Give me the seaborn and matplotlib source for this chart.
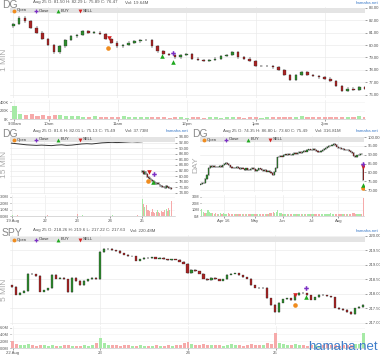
import numpy as np
import pandas as pd
import matplotlib
matplotlib.use("Agg")
import matplotlib.pyplot as plt
import seaborn as sns

# ---------------- data ----------------
# Panel 1: DG 1 MIN (sampled every 5 minutes from 9:30)
m1_open0 = 81.5
m1_close = [81.7, 82.2, 81.9, 81.4, 81.0, 80.5, 80.0, 79.4, 79.9, 80.4,
            80.7, 80.8, 81.1, 81.0, 81.0, 80.9, 80.5, 80.2, 79.9, 80.0,
            80.2, 80.3, 80.4, 80.4, 79.9, 79.5, 79.3, 79.2, 79.0, 79.2,
            79.3, 78.9, 78.8, 78.7, 78.8, 78.9, 79.1, 79.2, 79.4, 79.0,
            78.9, 78.7, 78.3, 78.3, 78.3, 78.2, 78.0, 77.6, 77.2, 77.6,
            77.8, 77.6, 77.5, 77.4, 77.3, 77.1, 76.7, 76.3, 76.5, 76.4,
            76.6, 76.5]
m1_vol = [310, 120, 90, 110, 80, 95, 70, 85, 100, 75, 60, 70, 55, 50, 60, 45,
          50, 55, 40, 65, 50, 45, 40, 50, 45, 55, 40, 35, 45, 40, 35, 50,
          40, 35, 45, 40, 35, 45, 55, 40, 35, 50, 40, 35, 45, 40, 50, 45,
          40, 55, 60, 50, 45, 40, 50, 45, 55, 45, 50, 55, 60, 50]
m1_xlabels = ["9:30am", "10am", "11am", "12pm", "1pm", "2pm"]
m1_xlabel_min = [0, 30, 90, 150, 210, 270]
m1_marks = {"Open": (82, 79.75), "SELL": (83, 80.55), "BUY": [(129, 79.1), (138, 78.6)], "Close": (138, 79.4)}

# Panel 2: DG 15 MIN
m15_prior_line = [91.8, 91.6, 91.4, 91.2, 91.1, 91.0, 91.1, 91.0, 90.9, 91.1,
                  91.2, 91.0, 91.1, 91.3, 91.5, 91.6, 91.5, 91.7, 91.9, 92.0,
                  92.1, 92.0, 92.1, 92.2, 92.3, 92.2, 92.3]
m15_prior_vol = [0.15, 0.08, 0.06, 0.07, 0.05, 0.06, 0.05, 0.12, 0.07, 0.05,
                 0.06, 0.05, 0.07, 0.28, 0.08, 0.06, 0.05, 0.07, 0.06, 0.05,
                 0.08, 0.06, 0.05, 0.07, 0.06, 0.10]
m15_open0 = 81.6
m15_close = [82.0, 80.6, 81.5, 80.8, 79.8, 79.4, 79.0, 78.6, 78.2, 78.0,
             77.6, 77.2, 77.4, 77.0, 76.6, 76.4, 76.2, 76.0, 75.8, 76.3,
             76.1, 75.7, 75.9, 75.5]
m15_vol = [2.6, 1.9, 1.4, 1.7, 1.0, 0.9, 0.8, 0.7, 1.1, 0.6, 0.5, 0.7, 0.9,
           0.6, 0.5, 0.8, 0.7, 0.6, 0.9, 1.1, 0.8, 1.3, 1.0, 2.4]
m15_xlabels = ["19 Aug", "22", "23", "24", "25"]
m15_marks = {"Open": (108.6, 78.3), "SELL": (109.3, 81.5), "BUY": [(112.5, 77.9)], "Close": (113.3, 80.8)}

# Panel 3: DG DAY
day_open0 = 73.2
day_close = [73.5, 74.0, 73.8, 76.5, 78.5, 82.5, 83.5, 83.0, 83.6, 83.2,
             82.9, 83.1, 83.5, 83.2, 84.0, 84.6, 85.3, 84.8, 84.0, 83.0,
             82.6, 82.8, 82.4, 82.9, 82.5, 82.0, 82.6, 82.2, 81.6, 82.3,
             81.5, 81.2, 81.9, 82.4, 81.8, 81.0, 81.5, 82.3, 82.0, 81.6,
             80.8, 81.3, 80.5, 81.0, 80.4, 79.5, 78.8, 80.5, 82.5, 88.5,
             89.0, 89.3, 89.0, 89.8, 90.2, 89.8, 90.5, 90.1, 89.6, 90.3,
             90.8, 90.4, 91.0, 91.4, 90.9, 91.6, 92.2, 91.8, 92.6, 93.0,
             92.5, 92.8, 93.3, 92.7, 92.0, 91.5, 91.4, 91.9, 92.6, 93.2,
             93.8, 94.2, 94.8, 95.2, 95.6, 96.2, 95.4, 94.6, 94.0, 93.6,
             93.2, 93.5, 92.8, 92.4, 92.8, 92.0, 91.5, 91.2, 89.5, 88.7,
             89.6, 90.0, 90.5, 90.3, 75.5]
day_last_open = 84.0
day_vol = [11, 6, 4, 5, 9, 7, 5, 4, 3, 4,
           3, 3, 4, 3, 4, 3, 3, 4, 3, 3,
           2.5, 3, 3, 2.5, 3, 3, 2.5, 3, 2.5, 3,
           3, 2.5, 3, 3.5, 3, 3, 2.5, 3, 3, 3,
           3.5, 3, 3, 3.5, 4, 5, 6, 5, 7, 9,
           5, 4, 3.5, 3, 3, 3, 3.5, 3, 3, 2.5,
           3, 3, 3, 2.5, 3, 3, 2.5, 3, 3, 2.5,
           3, 3, 2.5, 3, 3, 3, 2.5, 3, 3, 3,
           3.5, 3, 3.5, 4, 3, 3, 2.5, 3, 3, 2.5,
           3, 3, 2.5, 3, 3, 3, 3.5, 4, 4.5, 3.5,
           3, 3, 2.5, 3.5, 28]
day_xlabels = ["Apr 16", "May", "Jun", "Jul", "Aug"]
day_xlabel_idx = [14, 34, 52, 71, 88]
day_marks = {"Open": (104, 71.0), "SELL": (104, 83.3), "BUY": [(104, 73.0)], "Close": (104, 84.7)}

# Panel 4: SPY 5 MIN (sampled ~20 min)
spy_open0 = 218.3
spy_close = [218.24, 217.97, 218.05, 218.10, 218.70, 218.68, 218.62, 218.08, 218.12, 218.20,
             218.66, 218.52, 218.55, 218.50, 218.07, 218.55, 218.45, 218.30, 218.45, 218.50,
             218.55, 218.50,
             219.45, 219.55, 219.56, 219.50, 219.48, 219.40, 219.35, 219.30, 219.30, 219.15,
             219.20, 219.25, 219.24, 219.26, 219.22, 219.25, 219.20, 219.17, 219.20, 219.18,
             219.12, 219.05,
             218.72, 218.83, 218.78, 218.70, 218.52, 218.48, 218.55, 218.50, 218.46, 218.50,
             218.66, 218.70, 218.72, 218.65, 218.58, 218.52, 218.30, 218.22, 218.20, 218.22,
             217.85, 217.62,
             217.38, 217.70, 217.82, 217.85, 217.78, 217.95, 218.05, 218.02, 217.95, 217.80,
             217.88, 217.98, 217.95, 217.92, 217.88, 217.52, 217.48, 217.45, 217.38, 217.30,
             217.50, 217.55, 217.63]
spy_vol = [2.0, 1.2, 0.9, 1.0, 1.3, 0.8, 0.7, 0.9, 0.8, 0.7, 1.0, 0.6, 0.7, 0.8, 0.9, 0.6,
           0.7, 0.6, 0.8, 0.7, 0.9, 1.4,
           2.9, 1.5, 1.0, 0.9, 0.8, 0.7, 0.9, 0.8, 0.6, 0.7, 0.8, 0.6, 0.7, 0.6, 0.9, 0.7,
           0.6, 0.8, 0.7, 0.9, 1.0, 1.5,
           1.8, 1.2, 1.0, 0.9, 1.3, 0.8, 0.9, 1.0, 0.8, 0.7, 0.9, 1.1, 0.8, 0.9, 0.7, 1.0,
           1.2, 0.9, 0.8, 1.0, 1.4, 1.3,
           4.4, 1.6, 1.2, 1.0, 0.9, 1.1, 0.8, 0.9, 0.7, 0.8, 1.0, 0.7, 0.8, 1.3, 0.9, 0.8,
           0.7, 1.0, 0.9, 0.8, 1.1, 1.3, 4.3]
spy_xlabels = ["22 Aug", "23", "24", "25"]
spy_marks = {"Open": (71, 217.62), "SELL": (71, 217.97), "BUY": [(73.7, 217.90)], "Close": (73.7, 218.20)}

headers = [
    ("DG", "Aug 25 O: 81.50 H: 82.29 L: 75.89 C: 76.47", "Vol: 19.64M", "1 MIN"),
    ("DG", "Aug 25 O: 81.6 H: 82.01 L: 75.13 C: 75.49", "Vol: 37.73M", "15 MIN"),
    ("DG", "Aug 25 O: 74.35 H: 86.80 L: 73.60 C: 75.49", "Vol: 316.81M", "DAY"),
    ("SPY", "Aug 25 O: 218.26 H: 219.6 L: 217.22 C: 217.63", "Vol: 220.48M", "5 MIN"),
]

# ---------------- style ----------------
sns.set_theme(style="white")
plt.rcParams['font.family'] = ['Liberation Sans', 'DejaVu Sans']

W, H = 380, 358
fig = plt.figure(figsize=(W / 100, H / 100), dpi=100)
fig.patch.set_facecolor("white")

UP, DN = "#2e8b2e", "#a82424"
VUP, VDN = "#a6eaa6", "#f6aaaa"
MCOL = {"Open": "#f08c1e", "Close": "#7b2fc4", "BUY": "#1fa81f", "SELL": "#d42020"}
MSYM = {"Open": "o", "Close": "P", "BUY": "^", "SELL": "v"}
BLUE = "#3d7cc9"
HDR = 3.15
TICK = 3.1
VTICK = 2.8


def rect(x0, y0, x1, y1):
    return [x0 / W, 1 - y1 / H, (x1 - x0) / W, (y1 - y0) / H]


def ftext(x, y, s, **kw):
    fig.text(x / W, 1 - y / H, s, **kw)


def candles(ax, x, o, c, width, wick, lw=0.4):
    x = np.asarray(x, float)
    o = np.asarray(o, float)
    c = np.asarray(c, float)
    lo = np.minimum(o, c)
    hi = np.maximum(o, c)
    cols = np.where(c >= o, UP, DN)
    ax.vlines(x, lo - wick, hi + wick, color="#222222", lw=lw, zorder=3)
    ax.bar(x, np.maximum(hi - lo, wick * 0.3), bottom=lo, width=width,
           color=cols, edgecolor="#222222", linewidth=0.2, zorder=4)


def vols(ax, x, v, up, width):
    ax.bar(x, v, width=width, color=np.where(up, VUP, VDN), linewidth=0, zorder=3)


def style_price(ax, yticks, fmt, xgrid, xlim, ylim):
    for s in ax.spines.values():
        s.set_visible(False)
    ax.set_xlim(*xlim)
    ax.set_ylim(*ylim)
    ax.yaxis.tick_right()
    ax.set_yticks(yticks)
    ax.set_yticklabels([fmt.format(v) for v in yticks])
    ax.tick_params(axis="y", labelsize=TICK, colors="#555555", length=1.5, width=0.4, pad=1, right=True)
    ax.set_xticks(xgrid)
    ax.tick_params(axis="x", length=0, labelbottom=False)
    ax.grid(True, color="#ebebeb", lw=0.5)
    ax.set_axisbelow(True)


def style_vol(ax, yticks, ylabels, ylim, xticks, xlabels, xlim):
    for k, s in ax.spines.items():
        s.set_visible(k == "bottom")
    ax.spines["bottom"].set_color("#bbbbbb")
    ax.spines["bottom"].set_linewidth(0.4)
    ax.set_xlim(*xlim)
    ax.set_ylim(*ylim)
    ax.set_yticks(yticks)
    ax.set_yticklabels(ylabels)
    ax.tick_params(axis="y", labelsize=VTICK, colors="#555555", length=1.0, width=0.4, pad=0.5, left=True)
    ax.set_xticks(xticks)
    ax.set_xticklabels(xlabels)
    ax.tick_params(axis="x", labelsize=TICK, colors="#555555", length=1.2, width=0.4, pad=1, bottom=True)
    ax.grid(True, axis="x", color="#ebebeb", lw=0.5)
    ax.grid(True, axis="y", color="#f2f2f2", lw=0.4)
    ax.set_axisbelow(True)


def legend_band(x0, y0, x1, y1):
    ax = fig.add_axes(rect(x0, y0, x1, y1))
    ax.set_facecolor("#e4e4e4")
    for s in ax.spines.values():
        s.set_visible(False)
    ax.set_xticks([]); ax.set_yticks([])
    ax.set_xlim(x0, x1); ax.set_ylim(0, 1)
    ax.set_zorder(5)
    pos = x0 + 3.5
    for name in ["Open", "Close", "BUY", "SELL"]:
        ax.plot([pos], [0.5], marker=MSYM[name], color=MCOL[name], ms=2.8, mew=0, ls="none")
        ax.text(pos + 3, 0.5, name, fontsize=3.0, color="#333333", va="center", ha="left")
        pos += 22


def marks(ax, m, ms=3.3):
    for name, pts in m.items():
        if not isinstance(pts, list):
            pts = [pts]
        for (xx, yy) in pts:
            ax.plot([xx], [yy], marker=MSYM[name], color=MCOL[name], ms=ms, mew=0, ls="none", zorder=6)


def header(px, py, idx, right_x, hx=33, vx=125, lab_xy=None):
    t, h, v, lab = headers[idx]
    ftext(px, py, t, fontsize=7.5, color="#888888", va="center", ha="left")
    ftext(px + hx - 2, py - 2.5, h, fontsize=HDR, color="#555555", va="center", ha="left")
    ftext(px + vx - 2, py - 2.5, v, fontsize=HDR, color="#555555", va="center", ha="left")
    ftext(right_x, py - 2.5, "hamaha.net", fontsize=HDR, color=BLUE, va="center", ha="right")
    if lab_xy is not None:
        ftext(lab_xy[0], lab_xy[1], lab, fontsize=6, color="#aaaaaa", rotation=90, va="center", ha="center")


# ---------------- Panel 1: 1 MIN ----------------
n1 = min(len(m1_close), len(m1_vol))
t1 = np.arange(n1) * 5
o1 = np.r_[m1_open0, m1_close[:n1 - 1]]
c1 = np.array(m1_close[:n1])
ax1 = fig.add_axes(rect(10, 7, 365, 98))
candles(ax1, t1, o1, c1, 2.2, 0.1, lw=0.35)
marks(ax1, m1_marks)
style_price(ax1, [76, 77, 78, 79, 80, 81, 82, 83], "{:.2f}", m1_xlabel_min, (-3, 305), (75.75, 83.05))
av1 = fig.add_axes(rect(11, 100, 365, 119))
vols(av1, t1, m1_vol[:n1], c1 >= o1, 3.6)
style_vol(av1, [0, 200, 400], ["0K", "200K", "400K"], (0, 450), m1_xlabel_min, m1_xlabels, (-3, 305))
legend_band(10, 8, 365, 13)
header(2, 5, 0, 378, lab_xy=(5, 60))

# ---------------- Panel 2: 15 MIN ----------------
x_prior = np.arange(len(m15_prior_line)) * 4
n2 = min(len(m15_close), len(m15_vol))
x2 = 104 + np.arange(n2)
o2 = np.r_[m15_open0, m15_close[:n2 - 1]]
c2 = np.array(m15_close[:n2])
ax2 = fig.add_axes(rect(10, 136, 175, 194))
sns.lineplot(x=x_prior, y=m15_prior_line, ax=ax2, color="#333333", lw=0.7, zorder=3)
candles(ax2, x2, o2, c2, 0.6, 0.35, lw=0.35)
marks(ax2, m15_marks)
day_ticks2 = [0, 26, 52, 78, 104]
style_price(ax2, list(range(74, 95, 2)), "{:.2f}", day_ticks2, (-1, 130), (73.6, 94.35))
av2 = fig.add_axes(rect(11, 195, 175, 216))
xp = np.arange(len(m15_prior_vol)) * 4
vols(av2, xp, m15_prior_vol, np.arange(len(m15_prior_vol)) % 2 == 0, 1.2)
vols(av2, x2, m15_vol[:n2], c2 >= o2, 0.8)
style_vol(av2, [0, 1, 2, 3], ["0.0M", "1.0M", "2.0M", "3.0M"], (0, 3.3), day_ticks2, m15_xlabels, (-1, 130))
legend_band(10, 137, 175, 142)
header(2, 134, 1, 188, lab_xy=(5, 165))

# ---------------- Panel 3: DAY ----------------
n3 = min(len(day_close), len(day_vol))
x3 = np.arange(n3)
o3 = np.r_[day_open0, day_close[:n3 - 1]]
o3[-1] = day_last_open
c3 = np.array(day_close[:n3])
ax3 = fig.add_axes(rect(200, 136, 364, 192))
candles(ax3, x3, o3, c3, 0.75, 0.5, lw=0.3)
marks(ax3, day_marks)
style_price(ax3, [70, 75, 80, 85, 90, 95, 100], "{:.2f}", day_xlabel_idx, (-0.5, 104.5), (69.0, 100.57))
av3 = fig.add_axes(rect(201, 195, 364, 216))
vols(av3, x3, day_vol[:n3], c3 >= o3, 0.8)
style_vol(av3, [0, 10, 20, 30], ["0M", "10M", "20M", "30M"], (0, 33), day_xlabel_idx, day_xlabels, (-0.5, 104.5))
legend_band(200, 137, 364, 142)
header(192, 134, 2, 378, lab_xy=(196, 165))

# ---------------- Panel 4: SPY 5 MIN ----------------
n4 = min(len(spy_close), len(spy_vol))
x4 = np.arange(n4)
o4 = np.r_[spy_open0, spy_close[:n4 - 1]]
c4 = np.array(spy_close[:n4])
ax4 = fig.add_axes(rect(10, 235, 365, 325))
candles(ax4, x4, o4, c4, 0.55, 0.02, lw=0.35)
marks(ax4, spy_marks)
spy_day_ticks = [0, 22, 44, 66]
style_price(ax4, [217.0, 217.5, 218.0, 218.5, 219.0, 219.5, 220.0], "{:.2f}", spy_day_ticks,
            (-0.5, 88.5), (216.93, 220.034))
av4 = fig.add_axes(rect(11, 326, 365, 348))
vols(av4, x4, spy_vol[:n4], c4 >= o4, 0.75)
style_vol(av4, [0, 2, 4, 6], ["0.0M", "2.0M", "4.0M", "6.0M"], (0, 6.5), spy_day_ticks, spy_xlabels, (-0.5, 88.5))
legend_band(10, 237, 365, 242)
header(2, 233, 3, 378, vx=130, lab_xy=(5, 290))

# watermark
ftext(378, 347, "hamaha.net", fontsize=9.5, color=BLUE, va="center", ha="right")

fig.savefig("out.png", dpi=100, facecolor="white")
